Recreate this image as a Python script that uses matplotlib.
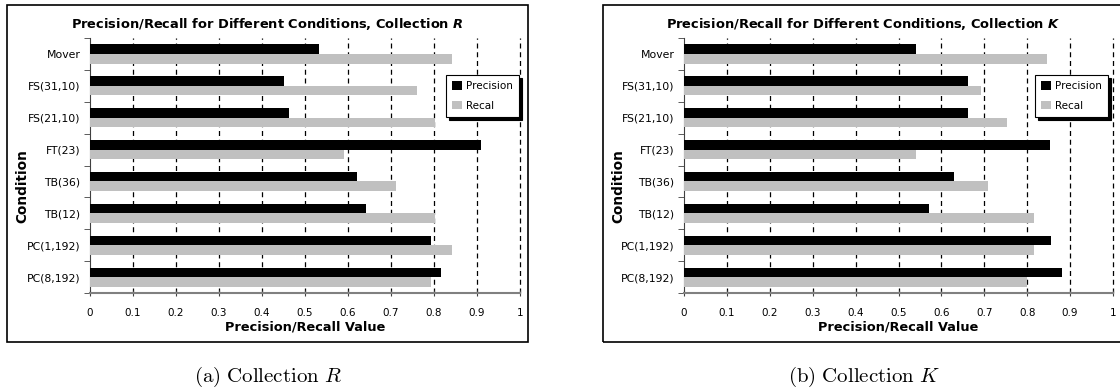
import matplotlib
matplotlib.use("Agg")
import matplotlib.pyplot as plt
from matplotlib.patches import Rectangle

conditions = ['Mover', 'FS(31,10)', 'FS(21,10)', 'FT(23)', 'TB(36)', 'TB(12)', 'PC(1,192)', 'PC(8,192)']

precision_r = [0.533, 0.45, 0.462, 0.91, 0.62, 0.643, 0.794, 0.816]
recall_r = [0.842, 0.761, 0.802, 0.591, 0.712, 0.802, 0.842, 0.792]

precision_k = [0.540, 0.662, 0.662, 0.853, 0.630, 0.570, 0.855, 0.882]
recall_k = [0.847, 0.693, 0.754, 0.540, 0.708, 0.817, 0.817, 0.800]

x_ticks = [0, 0.1, 0.2, 0.3, 0.4, 0.5, 0.6, 0.7, 0.8, 0.9, 1]
x_tick_labels = ['0', '0.1', '0.2', '0.3', '0.4', '0.5', '0.6', '0.7', '0.8', '0.9', '1']

plt.rcParams['font.family'] = 'DejaVu Sans'
plt.rcParams['mathtext.fontset'] = 'custom'
plt.rcParams['mathtext.it'] = 'DejaVu Sans:italic:bold'

W, H = 1120, 392
fig = plt.figure(figsize=(W / 100, H / 100), dpi=100)


def px(x, y):
    # pixel coords (top-left origin) -> figure fraction
    return x / W, 1 - y / H


def draw_panel(box_left, box_right, ax_left, ax_right, precision, recall, coll, caption, legend_right):
    # outer frame
    bx, by = px(box_left, 342)
    fig.patches.append(Rectangle((bx, by), (box_right - box_left) / W, (342 - 5) / H,
                                 transform=fig.transFigure, fill=False,
                                 edgecolor='black', linewidth=1.2))

    ax = fig.add_axes([ax_left / W, 1 - 293 / H, (ax_right - ax_left) / W, (293 - 38) / H])
    pos = list(range(len(conditions)))
    h = 0.3
    ax.barh([p - h / 2 for p in pos], precision, height=h, color='black', label='Precision', zorder=3)
    ax.barh([p + h / 2 for p in pos], recall, height=h, color='#c0c0c0', label='Recal', zorder=3)

    ax.set_xlim(0, 1)
    ax.set_ylim(len(conditions) - 0.5, -0.5)
    ax.set_xticks(x_ticks)
    ax.set_xticklabels(x_tick_labels, fontsize=7.5)
    ax.set_yticks(pos)
    ax.set_yticklabels(conditions, fontsize=7.8)
    ax.set_yticks([p - 0.5 for p in pos] + [len(conditions) - 0.5], minor=True)
    ax.tick_params(axis='y', which='major', length=0, pad=7)
    ax.tick_params(axis='y', which='minor', length=4, direction='out', color='#404040')
    ax.tick_params(axis='x', length=5, direction='inout', color='#404040', pad=8)

    for x in x_ticks[1:]:
        ax.axvline(x, color='black', linestyle=(0, (4, 3)), linewidth=0.9, zorder=1, clip_on=False)

    for s in ['top', 'right']:
        ax.spines[s].set_visible(False)
    ax.spines['left'].set_color('#404040')
    ax.spines['bottom'].set_color('#808080')
    ax.spines['bottom'].set_linewidth(1.5)
    ax.patch.set_alpha(0)

    ax.set_xlabel('Precision/Recall Value', fontsize=9.3, fontweight='bold', labelpad=2)
    ax.set_ylabel('Condition', fontsize=9.8, fontweight='bold')
    ax.yaxis.set_label_coords((box_left + 22 - ax_left) / (ax_right - ax_left), 0.42)

    tx, ty = px((box_left + box_right) / 2, 24)
    fig.text(tx, ty, 'Precision/Recall for Different Conditions, Collection $' + coll + '$',
             ha='center', va='center', fontsize=9.4, fontweight='bold')

    leg = ax.legend(loc='upper right', bbox_to_anchor=px(legend_right, 75),
                    bbox_transform=fig.transFigure, borderaxespad=0,
                    fontsize=7.5, frameon=True, fancybox=False, edgecolor='black',
                    framealpha=1, handlelength=0.9, handleheight=0.9, handletextpad=0.4,
                    labelspacing=0.9, borderpad=0.6,
                    shadow={'color': 'black', 'alpha': 1, 'ox': 2, 'oy': -2})
    leg.get_frame().set_linewidth(0.8)

    cx, cy = px((box_left + box_right) / 2, 377)
    fig.text(cx, cy, caption, ha='center', va='center', fontsize=15, math_fontfamily='cm')
    return ax


draw_panel(7, 528, 90, 520, precision_r, recall_r, 'R', r'$\mathrm{(a)\ Collection\ }R$', 519)
draw_panel(603, 1124, 684, 1113, precision_k, recall_k, 'K', r'$\mathrm{(b)\ Collection\ }K$', 1108)

fig.savefig('out.png', dpi=100)
